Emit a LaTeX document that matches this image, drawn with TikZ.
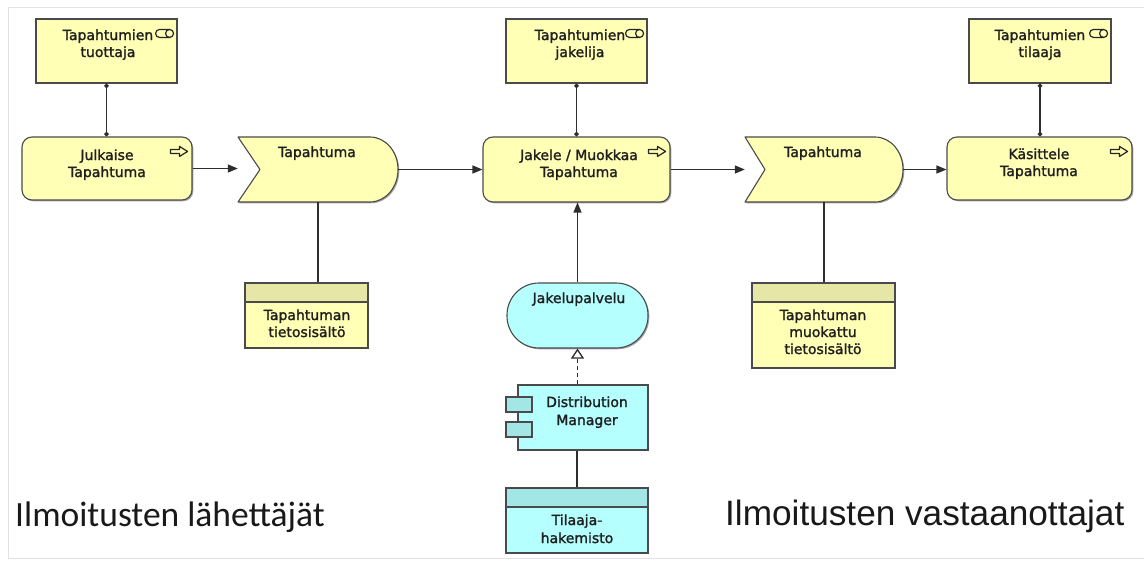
\documentclass[tikz,border=0pt]{standalone}
\usepackage{fontspec}
\setmainfont{DejaVu Sans}
\newfontfamily\boxfont{DejaVu Sans}[BoldFont={DejaVu Sans},BoldFeatures={FakeBold=1.6}]
\newfontfamily\senderfont{Carlito}
\newfontfamily\receiverfont{Liberation Sans}
\usetikzlibrary{arrows.meta,shadows}

\definecolor{bizfill}{HTML}{FFFFB5}
\definecolor{bizhead}{HTML}{E6E6A6}
\definecolor{appfill}{HTML}{B5FFFF}
\definecolor{apphead}{HTML}{A2E6E6}
\definecolor{edge}{HTML}{4A4A4A}
\definecolor{wire}{HTML}{2E2E2E}
\definecolor{framegray}{HTML}{E2E2E2}

\begin{document}
\begin{tikzpicture}[x=1pt,y=-1pt,
  shade/.style={drop shadow={shadow xshift=1.3pt,shadow yshift=-1.3pt,opacity=0.35,fill=black}},
  elem/.style={draw=edge,line width=1.1pt,shade,inner sep=0pt},
  role/.style={elem,rectangle,fill=bizfill,minimum width=141pt,minimum height=64pt},
  proc/.style={elem,rectangle,rounded corners=10pt,fill=bizfill,minimum height=63pt},
  evshape/.style={draw=edge,line width=1.1pt,fill=bizfill,shade,line join=round},
  holder/.style={rectangle,draw=none,inner sep=0pt},
  dataobj/.style 2 args={elem,rectangle,fill=#1,
    path picture={
      \fill[#2] (path picture bounding box.north west) rectangle
        ([yshift=-19pt]path picture bounding box.north east);
      \draw[edge,line width=1.1pt] ([yshift=-19pt]path picture bounding box.north west) --
        ([yshift=-19pt]path picture bounding box.north east);}},
  svc/.style={elem,rectangle,rounded corners=32pt,fill=appfill,minimum width=141pt,minimum height=65pt},
  comp/.style={elem,rectangle,fill=appfill},
  port/.style={draw=edge,line width=1.1pt,rectangle,fill=apphead,minimum width=26pt,minimum height=15pt,inner sep=0pt},
  txt/.style={font=\boxfont\bfseries\fontsize{14}{17}\selectfont,align=center,text=black!88,inner sep=0pt,anchor=base},
  icon/.style={draw=black!85,line width=1.2pt,line join=round},
  wirebase/.style={draw=wire,line width=1.3pt},
  trig/.style={wirebase,-{Triangle[length=10pt,width=8pt]}},
  assign/.style={wirebase,{Circle[length=4.5pt]}-{Circle[length=4.5pt]}},
  plain/.style={wirebase},
  realize/.style={wirebase,dash pattern=on 4pt off 3pt,-{Triangle[open,length=10pt,width=13pt,fill=white]}}
]
\useasboundingbox (0,0) rectangle (1144,565);
\fill[white] (0,0) rectangle (1144,565);
\draw[framegray,line width=1pt] (8,7) rectangle (1170,558);

% ---- business roles ----
\node[role] (r1) at (106.5,51) {};
\node[role] (r2) at (576.5,51) {};
\node[role,minimum width=142pt] (r3) at (1040,51) {};
\node[txt] (r1t) at (108,57) {Tapahtumien\\tuottaja};
\node[txt] (r2t) at (580,57) {Tapahtumien\\jakelija};
\node[txt] (r3t) at (1040,57) {Tapahtumien\\tilaaja};
\foreach \r in {r1,r2,r3}{
  \path ([xshift=-8pt,yshift=-15pt]\r.north east) coordinate (\r ic);
  \begin{scope}[shift={(\r ic)},x=1pt,y=1pt]
    \draw[icon] (0,4) -- (-10,4) arc[start angle=90,end angle=270,radius=4] -- (0,-4);
    \draw[icon] (0,0) ellipse [x radius=4,y radius=4];
  \end{scope}
}

% ---- business processes ----
\node[proc,minimum width=170pt] (p1) at (107,168.5) {};
\node[proc,minimum width=187pt,minimum height=65pt] (p2) at (576.5,169.5) {};
\node[proc,minimum width=185pt] (p3) at (1039.5,168.5) {};
\node[txt] (p1t) at (107,177) {Julkaise\\Tapahtuma};
\node[txt] (p2t) at (579,177) {Jakele / Muokkaa\\Tapahtuma};
\node[txt] (p3t) at (1039,176) {Käsittele\\Tapahtuma};
\foreach \p in {p1,p2,p3}{
  \path ([xshift=-5pt,yshift=-15pt]\p.north east) coordinate (\p ic);
  \begin{scope}[shift={(\p ic)},x=1pt,y=1pt]
    \draw[icon] (0,0) -- (-8,5) -- (-8,2) -- (-17,2) -- (-17,-2) -- (-8,-2) -- (-8,-5) -- cycle;
  \end{scope}
}

% ---- business events ----
\path[evshape] (238,137) -- (370,137) .. controls (385.5,137) and (398,151.5) .. (398,169.5)
  .. controls (398,187.5) and (385.5,202) .. (370,202) -- (238,202) -- (260,169.5) -- cycle;
\path[evshape] (745,137) -- (875,137) .. controls (890.5,137) and (903,151.5) .. (903,169.5)
  .. controls (903,187.5) and (890.5,202) .. (875,202) -- (745,202) -- (765,169.5) -- cycle;
\node[holder,minimum width=160pt,minimum height=65pt] (e1) at (318,169.5) {};
\node[holder,minimum width=158pt,minimum height=65pt] (e2) at (824,169.5) {};
\node[txt] (e1t) at (317,157) {Tapahtuma};
\node[txt] (e2t) at (823,157) {Tapahtuma};

% ---- business objects ----
\node[dataobj={bizfill}{bizhead},minimum width=123pt,minimum height=65pt] (d1) at (306.5,315.5) {};
\node[dataobj={bizfill}{bizhead},minimum width=143pt,minimum height=85pt] (d2) at (823.5,325.5) {};
\node[txt] (d1t) at (307,337) {Tapahtuman\\tietosisältö};
\node[txt] (d2t) at (823,354) {Tapahtuman\\muokattu\\tietosisältö};

% ---- application layer ----
\node[svc] (svc) at (577.5,315.5) {};
\node[txt] (svct) at (579,303) {Jakelupalvelu};
\node[comp,minimum width=130pt,minimum height=65pt] (dm) at (583,417.5) {};
\node[port] (dmp1) at (519,404.5) {};
\node[port] (dmp2) at (519,429.5) {};
\node[txt,font=\boxfont\bfseries\fontsize{14}{18}\selectfont] (dmt) at (587,425) {Distribution\\Manager};
\node[dataobj={appfill}{apphead},minimum width=142pt,minimum height=65pt] (d3) at (577,520.5) {};
\node[txt,font=\boxfont\bfseries\fontsize{14}{18}\selectfont] (d3t) at (577,543) {Tilaaja-\\hakemisto};

% ---- relations ----
\draw[assign] (r1.south) -- (r1.south |- p1.north);
\draw[assign] (r2.south) -- (r2.south |- p2.north);
\draw[assign] (r3.south) -- (r3.south |- p3.north);
\draw[trig] (p1.east) -- (p1.east -| e1.west);
\draw[trig] (e1.east) -- (e1.east -| p2.west);
\draw[trig] (p2.east) -- (p2.east -| e2.west);
\draw[trig] (e2.east) -- (e2.east -| p3.west);
\draw[plain] (e1.south) -- (e1.south |- d1.north);
\draw[plain] (e2.south) -- (e2.south |- d2.north);
\draw[trig] (svc.north) -- (svc.north |- p2.south);
\draw[realize] (svc.south |- dm.north) -- (svc.south);
\draw[plain] (d3.north |- dm.south) -- (d3.north);

% ---- captions ----
\node[font=\senderfont\fontsize{35.5}{40}\selectfont,anchor=base west,inner sep=0pt,text=black!90] (senders) at (15,526) {Ilmoitusten lähettäjät};
\node[font=\receiverfont\fontsize{35.2}{40}\selectfont,anchor=base west,inner sep=0pt,text=black!90] (receivers) at (725,525) {Ilmoitusten vastaanottajat};
\end{tikzpicture}
\end{document}
